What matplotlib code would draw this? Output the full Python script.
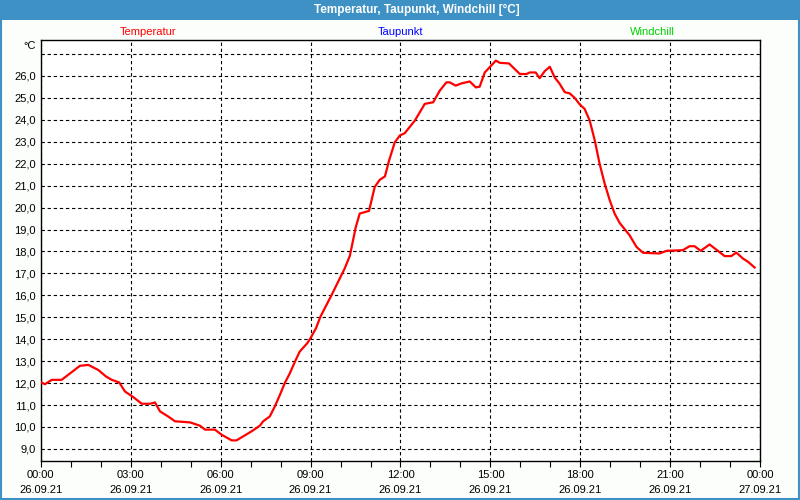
import numpy as np
import matplotlib
matplotlib.use('Agg')
import matplotlib.pyplot as plt
from matplotlib.patches import Rectangle

# Messwerte (Stunden seit 26.09.21 00:00, Temperatur in °C)
stunden = [0.00, 0.14, 0.37, 0.70, 0.87, 1.31, 1.59, 1.92, 2.18, 2.37, 2.62, 2.81,
           3.09, 3.37, 3.65, 3.81, 3.98, 4.25, 4.48, 4.98, 5.31, 5.48, 5.81, 6.03,
           6.37, 6.53, 6.75, 7.03, 7.31, 7.42, 7.64, 7.81, 7.98, 8.14, 8.31, 8.48,
           8.64, 8.89, 9.00, 9.18, 9.33, 9.53, 9.70, 9.92, 10.14, 10.31, 10.51, 10.64,
           10.95, 11.14, 11.31, 11.48, 11.62, 11.81, 11.98, 12.14, 12.48, 12.81, 13.09, 13.31,
           13.53, 13.64, 13.84, 14.03, 14.31, 14.51, 14.64, 14.81, 15.18, 15.31, 15.62, 15.98,
           16.20, 16.31, 16.51, 16.64, 16.81, 16.98, 17.14, 17.31, 17.48, 17.64, 17.81, 17.98,
           18.14, 18.31, 18.48, 18.64, 18.81, 18.98, 19.14, 19.31, 19.64, 19.87, 20.09, 20.64,
           20.87, 21.42, 21.64, 21.81, 22.01, 22.31, 22.48, 22.81, 23.03, 23.20, 23.42, 23.59,
           23.81]
temperatur = [12.05, 11.95, 12.15, 12.15, 12.33, 12.79, 12.83, 12.60, 12.30, 12.15, 12.03, 11.62,
              11.36, 11.06, 11.06, 11.12, 10.71, 10.48, 10.26, 10.21, 10.06, 9.88, 9.88, 9.65,
              9.39, 9.39, 9.57, 9.80, 10.06, 10.26, 10.48, 10.94, 11.47, 12.00, 12.45, 12.98,
              13.44, 13.82, 14.05, 14.50, 15.03, 15.56, 16.01, 16.62, 17.23, 17.80, 19.12, 19.73,
              19.85, 20.94, 21.27, 21.42, 22.15, 22.98, 23.29, 23.39, 23.97, 24.73, 24.80, 25.33,
              25.71, 25.71, 25.56, 25.66, 25.75, 25.48, 25.51, 26.16, 26.70, 26.60, 26.57, 26.09,
              26.09, 26.16, 26.16, 25.90, 26.22, 26.42, 25.94, 25.64, 25.26, 25.21, 25.00, 24.70,
              24.50, 23.97, 23.06, 22.00, 21.09, 20.33, 19.73, 19.30, 18.74, 18.21, 17.94, 17.91,
              18.03, 18.06, 18.24, 18.24, 18.03, 18.32, 18.14, 17.79, 17.79, 17.95, 17.68, 17.53,
              17.27]

x_ticks = [0, 3, 6, 9, 12, 15, 18, 21, 24]
x_labels = ['00:00\n26.09.21', '03:00\n26.09.21', '06:00\n26.09.21', '09:00\n26.09.21',
            '12:00\n26.09.21', '15:00\n26.09.21', '18:00\n26.09.21', '21:00\n26.09.21',
            '00:00\n27.09.21']
y_ticks = list(range(9, 28))
y_labels = [f'{v:.1f}'.replace('.', ',') for v in range(9, 27)] + ['']

serien = ['Temperatur', 'Taupunkt', 'Windchill']
serien_farben = ['#FF0000', '#0000FF', '#00D000']

plt.rcParams['font.family'] = ['Liberation Sans', 'DejaVu Sans']

W, H = 800, 500
fig = plt.figure(figsize=(8, 5), dpi=100, facecolor='#FBFEFB')

# Titelleiste und Rahmen
fig.patches.append(Rectangle((0, 480 / H), 1, 20 / H, transform=fig.transFigure,
                             facecolor='#3D91C5', edgecolor='none', zorder=0))
fig.patches.append(Rectangle((0.001, 0.002), 0.998, 0.996, transform=fig.transFigure,
                             facecolor='none', edgecolor='#3D91C5', lw=1.5, zorder=1))
fig.text(417 / W, 1 - 10 / H, 'Temperatur, Taupunkt, Windchill [°C]', color='white',
         fontsize=8.5, fontweight='bold', ha='center', va='center')

# Plotbereich
left, right, top, bottom = 40.7, 760.3, 40, 461
ax = fig.add_axes([left / W, 1 - bottom / H, (right - left) / W, (bottom - top) / H])
ax.set_facecolor('white')
ax.plot(stunden, temperatur, color='#FF0000', lw=1.6, zorder=3)

ax.set_xlim(0, 24)
ax.set_ylim(8.45, 27.64)
ax.set_xticks(x_ticks)
ax.set_xticklabels(x_labels, fontsize=8, linespacing=1.65)
ax.set_xticks(np.arange(0, 25, 1), minor=True)
ax.set_yticks(y_ticks)
ax.set_yticklabels(y_labels, fontsize=8)
ax.tick_params(axis='x', which='both', direction='out', length=4, width=0.8, pad=2.5)
ax.tick_params(axis='y', length=0, pad=3.5)
ax.grid(True, which='major', color='black', linestyle=(0, (3, 2.5)), linewidth=0.8)
for s in ax.spines.values():
    s.set_linewidth(1.0)
    s.set_color('black')

fig.text(30 / W, 1 - 46 / H, '°C', fontsize=8, ha='center', va='center')

# Legende oberhalb
for name, farbe, xpos in zip(serien, serien_farben, [148, 400, 652]):
    fig.text(xpos / W, 1 - 32 / H, name, color=farbe, fontsize=8, ha='center', va='center')

fig.savefig('out.png', dpi=100, facecolor=fig.get_facecolor())
